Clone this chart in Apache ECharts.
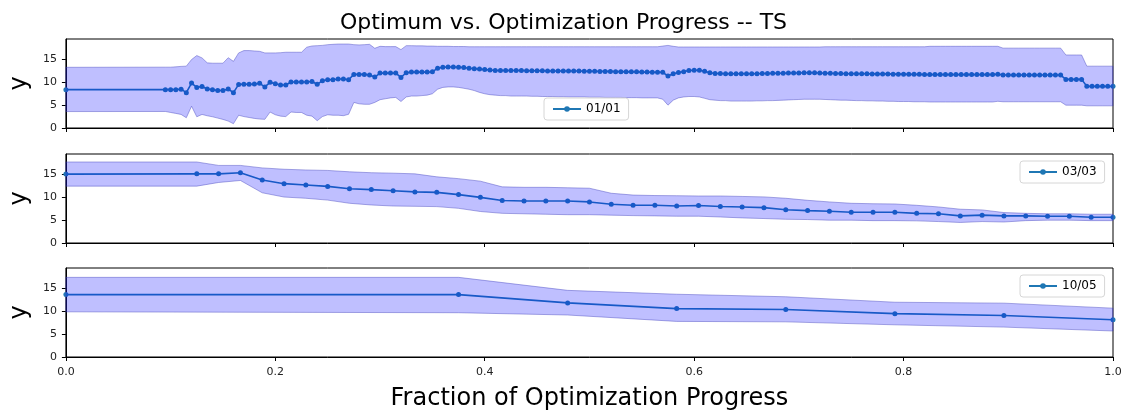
<!DOCTYPE html>
<html>
<head>
<meta charset="utf-8">
<script src="https://cdn.jsdelivr.net/npm/echarts@6/dist/echarts.min.js"></script>
<style>
  html, body { margin: 0; padding: 0; background: #fff; }
  #chart { width: 1127px; height: 412px; }
</style>
</head>
<body>
<div id="chart"></div>
<script>
// panel names (legend labels)
const panelNames = ['01/01', '03/03', '10/05']

// panel 1: point at 0, then iterations 19..200 out of 200
const p1Steps = 200
const p1Start = 19
const p1Mean = [
  8.4,
  8.4, 8.4, 8.4, 8.5, 7.75, 9.85, 8.9, 9.1, 8.55, 8.4, 8.2, 8.2, 8.55, 7.75,
  9.55, 9.57, 9.57, 9.64, 9.78, 9.0, 10.0, 9.7, 9.42, 9.42, 10.07, 10.07, 10.07, 10.07,
  10.2, 9.57, 10.36, 10.58, 10.58, 10.72, 10.72, 10.58, 11.74, 11.74, 11.74, 11.6, 11.16, 12.03,
  12.03, 12.03, 12.03, 11.09, 12.1, 12.25, 12.25, 12.25, 12.25, 12.3, 13.1, 13.3, 13.35, 13.35,
  13.3, 13.25, 13.1, 13.0, 12.9, 12.8, 12.7, 12.6, 12.6, 12.6, 12.6, 12.6, 12.6, 12.55,
  12.55, 12.55, 12.55, 12.5, 12.5, 12.5, 12.5, 12.5, 12.5, 12.5, 12.45, 12.45, 12.45, 12.4,
  12.4, 12.4, 12.35, 12.35, 12.3, 12.3, 12.3, 12.25, 12.25, 12.2, 12.2, 12.2, 11.4, 11.9,
  12.15, 12.35, 12.6, 12.65, 12.65, 12.45, 12.1, 11.95, 11.95, 11.9, 11.9, 11.9, 11.9, 11.9,
  11.9, 11.9, 11.95, 11.95, 12.0, 12.0, 12.0, 12.05, 12.05, 12.05, 12.1, 12.1, 12.1, 12.05,
  12.0, 12.0, 11.95, 11.95, 11.9, 11.9, 11.9, 11.9, 11.9, 11.85, 11.85, 11.85, 11.85, 11.8,
  11.8, 11.8, 11.75, 11.75, 11.75, 11.7, 11.7, 11.7, 11.7, 11.7, 11.7, 11.7, 11.7, 11.7,
  11.7, 11.7, 11.7, 11.7, 11.7, 11.8, 11.6, 11.6, 11.6, 11.6, 11.6, 11.6, 11.6, 11.6,
  11.6, 11.6, 11.6, 11.6, 10.65, 10.65, 10.65, 10.65, 9.13, 9.13, 9.13, 9.13, 9.13, 9.13
]
const p1Upper = [
  13.3,
  13.33, 13.33, 13.4, 13.5, 13.55, 15.0, 15.87, 15.36, 14.27, 14.2, 14.2, 14.2, 15.4, 14.6,
  16.45, 16.96, 16.96, 16.88, 16.8, 16.45, 16.45, 16.45, 16.5, 16.6, 16.6, 16.6, 16.6, 17.7,
  17.97, 18.04, 18.1, 18.26, 18.33, 18.4, 18.4, 18.4, 18.26, 18.2, 18.26, 18.33, 17.46, 17.9,
  17.83, 17.83, 17.83, 17.17, 18.04, 18.04, 18.0, 18.0, 17.95, 17.95, 17.9, 17.9, 17.9, 17.85,
  17.85, 17.85, 17.8, 17.8, 17.8, 17.8, 17.8, 17.8, 17.8, 17.8, 17.8, 17.8, 17.8, 17.8,
  17.8, 17.8, 17.8, 17.8, 17.8, 17.8, 17.8, 17.8, 17.8, 17.8, 17.8, 17.8, 17.8, 17.8,
  17.8, 17.8, 17.8, 17.8, 17.8, 17.8, 17.8, 17.8, 17.8, 17.8, 17.8, 17.95, 18.1, 17.9,
  17.75, 17.75, 17.75, 17.75, 17.75, 17.75, 17.75, 17.75, 17.75, 17.75, 17.75, 17.75, 17.75, 17.75,
  17.75, 17.75, 17.75, 17.75, 17.75, 17.75, 17.75, 17.75, 17.75, 17.75, 17.75, 17.75, 17.75, 17.75,
  17.8, 17.8, 17.8, 17.8, 17.8, 17.8, 17.8, 17.8, 17.8, 17.8, 17.8, 17.8, 17.8, 17.8,
  17.8, 17.8, 17.8, 17.8, 17.8, 17.8, 17.9, 17.9, 17.9, 17.9, 17.9, 17.9, 17.9, 17.9,
  17.9, 17.9, 17.9, 17.9, 17.9, 17.9, 17.5, 17.5, 17.5, 17.5, 17.5, 17.5, 17.5, 17.5,
  17.5, 17.5, 17.5, 17.5, 16.0, 16.0, 16.0, 16.0, 13.55, 13.55, 13.55, 13.55, 13.55, 13.55
]
const p1Lower = [
  3.6,
  3.62, 3.4, 3.2, 2.97, 2.25, 4.78, 2.46, 2.97, 2.68, 2.46, 2.17, 1.88, 1.52, 0.94,
  2.8, 2.5, 2.3, 2.1, 1.96, 1.9, 3.5, 2.9, 2.6, 2.5, 3.5, 3.4, 3.4, 2.8,
  2.6, 1.6, 2.5, 2.9, 2.8, 2.8, 2.7, 3.0, 5.6, 5.3, 5.2, 5.2, 5.6, 6.2,
  6.4, 6.6, 6.7, 5.8, 6.8, 7.0, 7.0, 7.1, 7.2, 7.5, 8.5, 8.9, 9.0, 9.0,
  8.9, 8.7, 8.5, 8.2, 7.8, 7.5, 7.3, 7.2, 7.1, 7.1, 7.0, 7.0, 7.0, 7.0,
  6.95, 6.95, 6.9, 6.9, 6.9, 6.85, 6.85, 6.8, 6.8, 6.8, 6.8, 6.75, 6.75, 6.75,
  6.7, 6.7, 6.7, 6.7, 6.65, 6.65, 6.65, 6.6, 6.6, 6.6, 6.6, 6.3, 5.0, 6.1,
  6.6, 6.8, 6.9, 6.9, 6.8, 6.5, 6.2, 6.1, 6.0, 6.0, 5.9, 5.9, 5.9, 5.9,
  5.9, 5.95, 5.95, 6.0, 6.0, 6.05, 6.1, 6.15, 6.2, 6.25, 6.3, 6.3, 6.3, 6.3,
  6.25, 6.2, 6.15, 6.1, 6.1, 6.05, 6.0, 6.0, 5.95, 5.95, 5.9, 5.9, 5.85, 5.85,
  5.8, 5.8, 5.8, 5.75, 5.75, 5.75, 5.7, 5.7, 5.7, 5.7, 5.7, 5.7, 5.7, 5.7,
  5.7, 5.7, 5.7, 5.7, 5.7, 5.85, 5.75, 5.75, 5.75, 5.75, 5.75, 5.75, 5.75, 5.75,
  5.75, 5.75, 5.75, 5.75, 5.0, 5.0, 5.0, 5.0, 4.86, 4.86, 4.86, 4.86, 4.86, 4.86
]

// panel 2: point at 0, then iterations 6..48 out of 48
const p2Steps = 48
const p2Start = 6
const p2Mean = [
  15.1, 15.15, 15.15, 15.4, 13.8, 13.0, 12.7, 12.4, 11.9, 11.7, 11.45, 11.2, 11.1, 10.6, 10.0,
  9.3, 9.2, 9.2, 9.2, 9.0, 8.5, 8.26, 8.26, 8.1, 8.2, 8.0, 7.9, 7.75, 7.3, 7.1,
  6.96, 6.74, 6.74, 6.74, 6.5, 6.4, 5.94, 6.1, 5.94, 5.94, 5.87, 5.87, 5.65, 5.65
]
const p2Upper = [
  17.75, 17.75, 17.0, 17.0, 16.45, 16.16, 16.0, 15.9, 15.6, 15.4, 15.3, 15.15, 14.5, 14.1, 13.55,
  12.3, 12.2, 12.2, 12.1, 12.0, 10.9, 10.5, 10.4, 10.36, 10.3, 10.3, 10.2, 10.1, 9.8, 9.35,
  9.0, 8.7, 8.6, 8.55, 8.26, 7.9, 7.4, 7.25, 6.67, 6.5, 6.4, 6.4, 6.3, 6.3
]
const p2Lower = [
  12.46, 12.46, 13.26, 13.7, 11.0, 10.07, 9.8, 9.4, 8.7, 8.33, 8.1, 8.04, 7.97, 7.6, 6.9,
  6.5, 6.4, 6.3, 6.2, 6.2, 6.1, 6.0, 5.94, 5.87, 5.87, 5.7, 5.5, 5.36, 5.2, 5.14,
  5.0, 5.0, 4.9, 4.9, 4.85, 4.7, 4.5, 4.7, 4.6, 4.9, 5.0, 5.0, 4.9, 4.9
]

// panel 3
const p3X = [0, 0.375, 0.4792, 0.5833, 0.6875, 0.7917, 0.8958, 1.0]
const p3Mean = [13.67, 13.67, 11.85, 10.6, 10.4, 9.5, 9.1, 8.15]
const p3Upper = [17.45, 17.45, 14.6, 13.75, 13.2, 12.0, 11.8, 10.7]
const p3Lower = [9.9, 9.7, 9.2, 7.8, 7.7, 7.05, 6.55, 5.7]

function stepXs(start, steps, count) {
    // first point sits at 0, the rest are evenly spaced iterations
    const xs = [0]
    for (let k = start; xs.length < count; k++) xs.push(k / steps)
    return xs
}

const panels = [
    { name: panelNames[0], x: stepXs(p1Start, p1Steps, p1Mean.length), mean: p1Mean, upper: p1Upper, lower: p1Lower },
    { name: panelNames[1], x: stepXs(p2Start, p2Steps, p2Mean.length), mean: p2Mean, upper: p2Upper, lower: p2Lower },
    { name: panelNames[2], x: p3X, mean: p3Mean, upper: p3Upper, lower: p3Lower }
]

const FONT = 'DejaVu Sans'
const LINE_BLUE = '#1f77b4'
const gridTops = [39, 154, 268]
const legendPos = [
    { left: 544, top: 98 },
    { left: 1020, top: 161 },
    { left: 1020, top: 275 }
]

const option = {
    animation: false,
    backgroundColor: '#fff',
    title: {
        text: 'Optimum vs. Optimization Progress -- TS',
        left: 'center',
        top: 7,
        textStyle: { fontFamily: FONT, fontSize: 22, fontWeight: 'normal', color: '#000' }
    },
    grid: gridTops.map(t => ({
        left: 62, right: 14, top: t, height: 89,
        show: true, borderColor: '#000', borderWidth: 1, backgroundColor: 'transparent'
    })),
    legend: panels.map((p, i) => ({
        data: [p.name],
        left: legendPos[i].left,
        top: legendPos[i].top,
        padding: [4, 8],
        itemWidth: 28,
        itemHeight: 7,
        backgroundColor: '#fff',
        borderColor: '#d6d6d6',
        borderWidth: 1,
        borderRadius: 3,
        z: 10,
        textStyle: { fontFamily: FONT, fontSize: 12, color: '#000', lineHeight: 14 }
    })),
    xAxis: panels.map((p, i) => ({
        type: 'value',
        gridIndex: i,
        min: 0,
        max: 1,
        interval: 0.2,
        name: i === 2 ? 'Fraction of Optimization Progress' : '',
        nameLocation: 'middle',
        nameGap: 30,
        nameTextStyle: { fontFamily: FONT, fontSize: 24, color: '#000' },
        axisLine: { lineStyle: { color: '#000', width: 1 } },
        axisTick: { show: true, length: 4, lineStyle: { color: '#000' } },
        axisLabel: {
            show: i === 2,
            margin: 10,
            fontFamily: FONT, fontSize: 11, color: '#222',
            formatter: v => v.toFixed(1)
        },
        splitLine: { show: false }
    })),
    yAxis: panels.map((p, i) => ({
        type: 'value',
        gridIndex: i,
        min: 0,
        max: 19.5,
        interval: 5,
        name: 'y',
        nameLocation: 'middle',
        nameRotate: 90,
        nameGap: 30,
        nameTextStyle: { fontFamily: FONT, fontSize: 24, color: '#000' },
        axisLine: { show: true, lineStyle: { color: '#000', width: 1 } },
        axisTick: { show: true, length: 4, lineStyle: { color: '#000' } },
        axisLabel: {
            margin: 9, showMaxLabel: false,
            fontFamily: FONT, fontSize: 11, color: '#222'
        },
        splitLine: { show: false }
    })),
    series: []
}

panels.forEach((p, i) => {
    option.series.push({
        name: p.name,
        type: 'line',
        xAxisIndex: i,
        yAxisIndex: i,
        z: 2,
        data: p.x.map((x, j) => [x, p.mean[j]]),
        symbol: 'circle',
        symbolSize: 5,
        showAllSymbol: true,
        clip: false,
        color: LINE_BLUE,
        lineStyle: { width: 1.6, color: LINE_BLUE },
        itemStyle: { color: LINE_BLUE }
    })
    // shaded band between lower and upper, drawn over the line like fill_between
    option.series.push({
        name: 'band-' + i,
        type: 'custom',
        xAxisIndex: i,
        yAxisIndex: i,
        z: 4,
        data: p.x.map((x, j) => [x, p.lower[j], p.upper[j]]),
        encode: { x: 0, y: [1, 2] },
        silent: true,
        renderItem: (params, api) => {
            if (params.dataIndex !== 0) return
            const top = p.x.map((x, j) => api.coord([x, p.upper[j]]))
            const bottom = p.x.map((x, j) => api.coord([x, p.lower[j]])).reverse()
            return {
                type: 'polygon',
                shape: { points: top.concat(bottom) },
                style: {
                    fill: 'rgba(0,0,255,0.25)',
                    stroke: 'rgba(70,70,190,0.45)',
                    lineWidth: 1
                }
            }
        }
    })
})

const chart = echarts.init(document.getElementById('chart'), null, { renderer: 'canvas' })
chart.setOption(option)
</script>
</body>
</html>
